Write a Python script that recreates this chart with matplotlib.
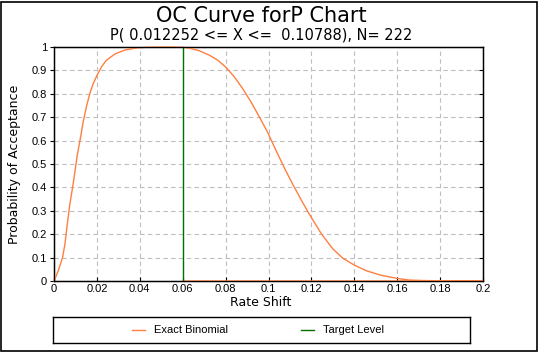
import matplotlib
matplotlib.use("Agg")
import matplotlib.pyplot as plt
from matplotlib.lines import Line2D
from matplotlib.patches import Rectangle

plt.rcParams['font.family'] = ['Liberation Sans', 'DejaVu Sans']

# Data
rate_shift = [0.0, 0.0020, 0.0040, 0.0051, 0.0062, 0.0074, 0.0087, 0.0098, 0.0108,
              0.0124, 0.0136, 0.0152, 0.0167, 0.0183, 0.0201, 0.0222, 0.0245, 0.0284,
              0.0330, 0.0392, 0.045, 0.052, 0.060,
              0.0631, 0.0678, 0.0724, 0.0763, 0.0802, 0.0840, 0.0879, 0.0918, 0.0957,
              0.0995, 0.1034, 0.1073, 0.1112, 0.1151, 0.1186, 0.1247, 0.130, 0.1347,
              0.140, 0.1456, 0.1518, 0.160, 0.1657, 0.172, 0.180, 0.200, 0.060]
prob_accept = [0.0, 0.044, 0.101, 0.158, 0.243, 0.329, 0.401, 0.470, 0.535,
               0.615, 0.680, 0.748, 0.801, 0.844, 0.880, 0.916, 0.944, 0.970,
               0.987, 0.997, 0.999, 1.0, 0.999,
               0.995, 0.984, 0.965, 0.944, 0.913, 0.873, 0.823, 0.766, 0.702,
               0.637, 0.560, 0.485, 0.415, 0.349, 0.292, 0.201, 0.137, 0.097,
               0.068, 0.044, 0.026, 0.011, 0.004, 0.002, 0.001, 0.0, 0.0]
target_level = 0.06
x_ticks = [0, 0.02, 0.04, 0.06, 0.08, 0.1, 0.12, 0.14, 0.16, 0.18, 0.2]
x_tick_labels = ['0', '0.02', '0.04', '0.06', '0.08', '0.1', '0.12', '0.14', '0.16', '0.18', '0.2']
y_ticks = [0, 0.1, 0.2, 0.3, 0.4, 0.5, 0.6, 0.7, 0.8, 0.9, 1]
y_tick_labels = ['0', '0.1', '0.2', '0.3', '0.4', '0.5', '0.6', '0.7', '0.8', '0.9', '1']

W, H = 538, 352
fig = plt.figure(figsize=(W / 100, H / 100), dpi=100)
fig.patch.set_facecolor('white')

# outer frame
fig.add_artist(Rectangle((1 / W, 1 / H), (W - 2.5) / W, (H - 2.5) / H,
                         transform=fig.transFigure, fill=False,
                         edgecolor='black', linewidth=1.2))

ax = fig.add_axes([54 / W, (H - 281) / H, (483 - 54) / W, 234 / H])
orange = '#FF7F3F'
green = '#007000'
wide = ['DejaVu Sans']

ax.plot(rate_shift, prob_accept, color=orange, linewidth=1.0, zorder=3, clip_on=False)
ax.plot([target_level, target_level], [0, 1], color=green, linewidth=1.0, zorder=4)

ax.set_xlim(0, 0.2)
ax.set_ylim(0, 1)
ax.set_xticks(x_ticks)
ax.set_xticklabels(x_tick_labels)
ax.set_yticks(y_ticks)
ax.set_yticklabels(y_tick_labels)
ax.grid(True, color='#BEBEBE', linestyle=(0, (4, 3)), linewidth=0.8)
ax.set_axisbelow(True)
for s in ax.spines.values():
    s.set_color('black')
    s.set_linewidth(1.0)
ax.tick_params(axis='both', labelsize=8, length=3, width=0.8, color='black', pad=2)
ax.tick_params(axis='y', direction='out', right=False)
ax.tick_params(axis='x', direction='in', top=False)

# right-side inward ticks
ax_r = ax.twinx()
ax_r.set_ylim(0, 1)
ax_r.set_yticks(y_ticks)
ax_r.tick_params(axis='y', direction='in', length=3, width=0.8, labelright=False)

cx = 261 / W
fig.text(cx, 1 - 303 / H, 'Rate Shift', ha='center', va='center', fontsize=9, family=wide)
fig.text(15 / W, 1 - 164 / H, 'Probability of Acceptance', ha='center', va='center',
         rotation=90, fontsize=9, family=wide)

fig.text(cx, 1 - 16 / H, 'OC Curve forP Chart', ha='center', va='center', fontsize=15, family=wide)
fig.text(cx, 1 - 35 / H, 'P( 0.012252 <= X <=  0.10788), N= 222', ha='center', va='center',
         fontsize=10.5, family=wide)

# legend box
lax = fig.add_axes([53 / W, (H - 343) / H, (470 - 53) / W, 26 / H])
lax.set_xlim(0, 470 - 53)
lax.set_ylim(0, 1)
lax.set_xticks([])
lax.set_yticks([])
for s in lax.spines.values():
    s.set_color('black')
    s.set_linewidth(1.0)
lax.add_line(Line2D([132 - 53, 145 - 53], [0.5, 0.5], color=orange, linewidth=1.0))
lax.text(154 - 53, 0.5, 'Exact Binomial', va='center', ha='left', fontsize=8)
lax.add_line(Line2D([301 - 53, 314 - 53], [0.5, 0.5], color=green, linewidth=1.0))
lax.text(323 - 53, 0.5, 'Target Level', va='center', ha='left', fontsize=8)

fig.savefig('out.png', dpi=100)
